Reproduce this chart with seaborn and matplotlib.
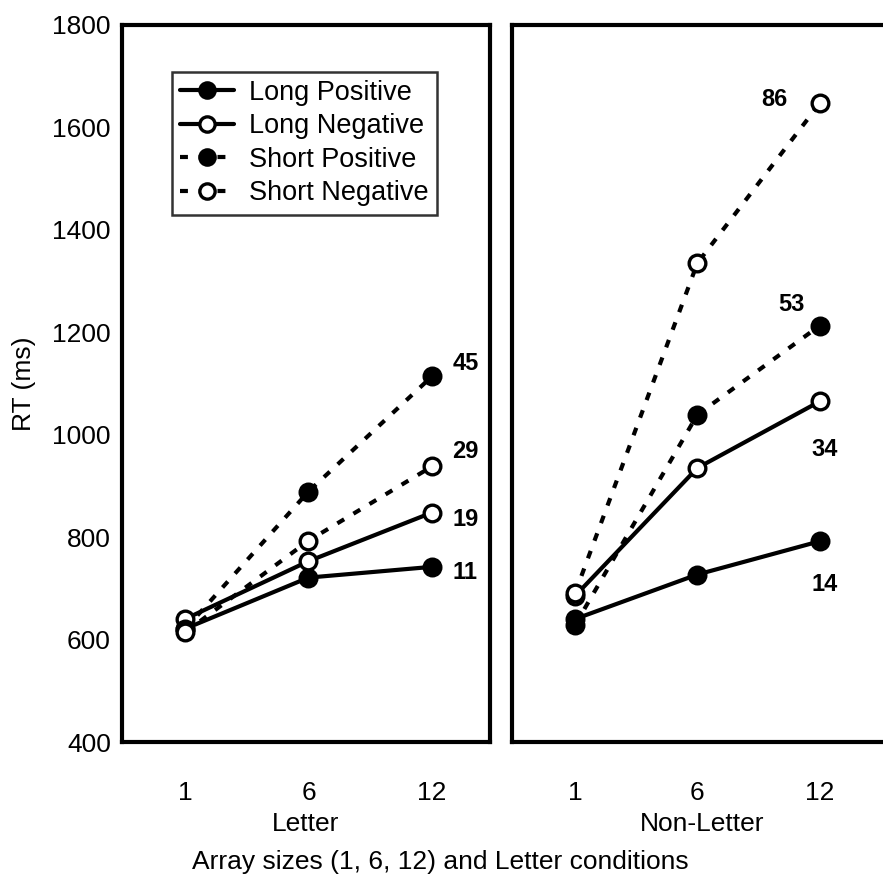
import matplotlib
matplotlib.use("Agg")
import matplotlib.pyplot as plt
import seaborn as sns
import pandas as pd

sns.set_theme(style="white")
plt.rcParams["font.family"] = ["Liberation Sans", "DejaVu Sans"]
plt.rcParams["text.color"] = "black"
plt.rcParams["axes.labelcolor"] = "black"

# Array sizes and conditions
array_sizes = ["1", "6", "12"]
series_names = ["Long Positive", "Long Negative", "Short Positive", "Short Negative"]

# Mean RT (ms) per series, Letter condition
letter_long_pos = [621, 721, 742]
letter_long_neg = [640, 753, 848]
letter_short_pos = [620, 889, 1114]
letter_short_neg = [614, 793, 938]

# Mean RT (ms) per series, Non-Letter condition
nonletter_long_pos = [640, 727, 792]
nonletter_long_neg = [685, 935, 1065]
nonletter_short_pos = [628, 1039, 1213]
nonletter_short_neg = [690, 1335, 1647]

# Slopes (ms/item) printed beside each line
letter_slopes = [11, 19, 45, 29]
nonletter_slopes = [14, 34, 53, 86]

rows = []
for cond, vals in [("Letter", [letter_long_pos, letter_long_neg, letter_short_pos, letter_short_neg]),
                   ("Non-Letter", [nonletter_long_pos, nonletter_long_neg, nonletter_short_pos, nonletter_short_neg])]:
    for name, v in zip(series_names, vals):
        for i, (size, rt) in enumerate(zip(array_sizes, v)):
            rows.append({"condition": cond, "series": name, "pos": i, "size": size, "rt": rt})
df = pd.DataFrame(rows)

dash = (0, (1.9, 2.6))
styles = {
    "Long Positive": dict(ls="-", mfc="black"),
    "Long Negative": dict(ls="-", mfc="white"),
    "Short Positive": dict(ls=dash, mfc="black"),
    "Short Negative": dict(ls=dash, mfc="white"),
}

W, H = 883, 886
fig = plt.figure(figsize=(W / 100, H / 100), dpi=100)
ax_l = fig.add_axes([122 / W, 1 - 742 / H, 368 / W, 717 / H])
ax_r = fig.add_axes([512 / W, 1 - 742 / H, 380 / W, 717 / H])

lw = 3.0
for ax, cond in [(ax_l, "Letter"), (ax_r, "Non-Letter")]:
    sub = df[df["condition"] == cond]
    for name in series_names:
        d = sub[sub["series"] == name]
        st = styles[name]
        sns.lineplot(data=d, x="pos", y="rt", ax=ax, color="black", lw=lw,
                     linestyle=st["ls"], marker="o", markersize=12,
                     markerfacecolor=st["mfc"], markeredgecolor="black",
                     markeredgewidth=2.4, label=name, legend=False)
    ax.set_ylim(400, 1800)
    ax.set_yticks(range(400, 1801, 200))
    ax.set_xticks([0, 1, 2])
    ax.set_xticklabels(array_sizes)
    ax.set_xlabel(cond, fontsize=19, labelpad=5)
    ax.tick_params(axis="both", direction="in", length=4, width=2, labelsize=19,
                   color="black", labelcolor="black")
    ax.tick_params(axis="x", pad=28)
    ax.tick_params(axis="y", pad=8)
    for sp in ax.spines.values():
        sp.set_visible(True)
        sp.set_linewidth(3.0)
        sp.set_color("black")
    ax.set_facecolor("white")

ax_l.set_xlim(-0.51, 2.47)
ax_r.set_xlim(-0.514, 2.59)
ax_l.set_ylabel("RT (ms)", fontsize=19, labelpad=12)
ax_r.set_ylabel("")
ax_r.set_yticklabels([])

# Slope labels beside each line
letter_label_pos = [(2.27, 730), (2.27, 835), (2.27, 1140), (2.27, 968)]
for s, (x, y) in zip(letter_slopes, letter_label_pos):
    ax_l.text(x, y, str(s), fontsize=17, fontweight="bold", ha="center", va="center")
nonletter_label_pos = [(2.04, 707), (2.04, 971), (1.77, 1254), (1.63, 1654)]
for s, (x, y) in zip(nonletter_slopes, nonletter_label_pos):
    ax_r.text(x, y, str(s), fontsize=17, fontweight="bold", ha="center", va="center")

leg = ax_l.legend(loc="upper left", bbox_to_anchor=(0.135, 0.935), fontsize=19.5,
                  frameon=True, fancybox=False, handlelength=2.0, handletextpad=0.55,
                  borderpad=0.3, labelspacing=0.28, borderaxespad=0)
leg.get_frame().set_edgecolor("black")
leg.get_frame().set_linewidth(1.8)
for line in leg.get_lines():
    line.set_markersize(11)

fig.text(440 / W, 1 - 862 / H, "Array sizes (1, 6, 12) and Letter conditions",
         fontsize=19, ha="center", va="center")

fig.savefig("out.png", dpi=100, facecolor="white")
